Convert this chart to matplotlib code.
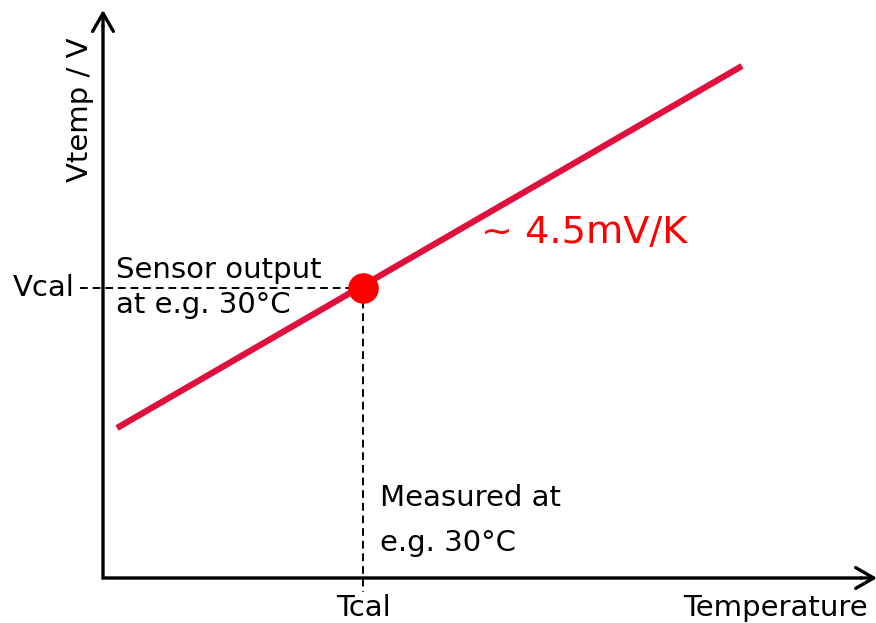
import matplotlib
matplotlib.use("Agg")
import matplotlib.pyplot as plt

# data (arbitrary units: temperature ~ x, Vtemp ~ y, origin at axis corner)
temperature = [14, 639]
vtemp = [150, 512]
t_cal = 260
v_cal = 290

# axis extents
x_axis_end = 774
y_axis_end = 568

plt.rcParams['font.family'] = ['DejaVu Sans']

fig = plt.figure(figsize=(8.76, 6.23), dpi=100)
ax = fig.add_axes([0, 0, 1, 1])
ax.set_xlim(-103, 773)
ax.set_ylim(-45, 578)
ax.axis('off')

# axes: L-shaped line plus open arrow heads
ax.plot([0, 0, x_axis_end - 15], [y_axis_end - 15, 0, 0], color='black', lw=2.4,
        solid_joinstyle='miter', solid_capstyle='butt', snap=False, zorder=2)
arrow = dict(arrowstyle='->,head_length=1.3,head_width=0.75', lw=2.4, color='black',
             shrinkA=0, shrinkB=0)
ax.annotate('', xy=(x_axis_end, 0), xytext=(x_axis_end - 16, 0), arrowprops=arrow,
            annotation_clip=False)
ax.annotate('', xy=(0, y_axis_end), xytext=(0, y_axis_end - 16), arrowprops=arrow,
            annotation_clip=False)

# dashed helper lines
ax.plot([-23, t_cal], [v_cal, v_cal], ls=(0, (4, 2.5)), color='black', lw=1.4, zorder=2)
ax.plot([t_cal, t_cal], [v_cal, -14], ls=(0, (4, 2.5)), color='black', lw=1.4, zorder=2)

# sensor characteristic
ax.plot(temperature, vtemp, color='#E0103C', lw=4.5, solid_capstyle='butt', zorder=3)
ax.plot([t_cal], [v_cal], 'o', color='#FF0000', ms=21, zorder=4)

fs = 21
ax.text(-28, v_cal, 'Vcal', ha='right', va='center', fontsize=fs)
ax.text(13, v_cal + 4, 'Sensor output', ha='left', va='bottom', fontsize=fs)
ax.text(13, v_cal - 3, 'at e.g. 30°C', ha='left', va='top', fontsize=fs)
ax.text(277, 80, 'Measured at', ha='left', va='center', fontsize=fs)
ax.text(277, 35, 'e.g. 30°C', ha='left', va='center', fontsize=fs)
ax.text(t_cal, -30, 'Tcal', ha='center', va='center', fontsize=fs)
ax.text(765, -30, 'Temperature', ha='right', va='center', fontsize=fs)
ax.text(-23, 468, 'Vtemp / V', ha='center', va='center', rotation=90, fontsize=fs)
ax.text(378, 345, '~ 4.5mV/K', ha='left', va='center', fontsize=27.5, color='#FF0000')

fig.savefig('out.png', dpi=100)
